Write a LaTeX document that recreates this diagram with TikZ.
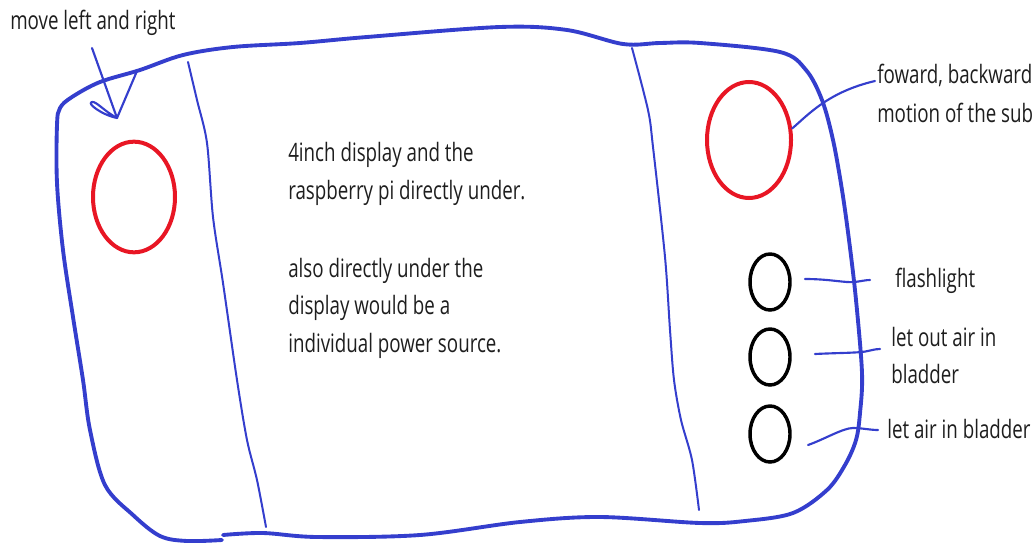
\documentclass[tikz,border=0pt]{standalone}
\usepackage{fontspec}
\setmainfont{Open Sans}[FakeStretch=0.74]
\usetikzlibrary{shapes.geometric}
\definecolor{inkblue}{RGB}{52,62,205}
\definecolor{inkred}{RGB}{232,22,36}
\definecolor{inktext}{RGB}{30,30,30}
\begin{document}
\begin{tikzpicture}[x=0.75pt,y=-0.75pt,
  outline/.style={draw=inkblue, line width=2.9pt, line cap=round, line join=round},
  thin/.style={draw=inkblue, line width=1.5pt, line cap=round, line join=round},
  conn/.style={draw=inkblue, line width=1.6pt, line cap=round, line join=round},
  redknob/.style={ellipse, draw=inkred, line width=3pt, inner sep=0pt},
  btn/.style={ellipse, draw=black, line width=2.6pt, inner sep=0pt, minimum width=30pt, minimum height=42pt},
  lbl/.style={anchor=base west, inner sep=0pt, text=inktext, font=\fontsize{19}{28}\selectfont}]
\useasboundingbox (0,0) rectangle (1034,542);
% outer outline
\draw[outline] plot[smooth, tension=0.55] coordinates {
 (223,535) (263,533) (317,537) (420,535) (520,522) (600,517) (700,523) (745,521)
 (793,513) (827,490) (845,465) (856,440) (860,413) (862,373) (856,300) (849,240)
 (842,190) (833,140) (822,100) (806,70) (780,52) (700,43) (660,43) (623,44)
 (567,30) (500,27) (367,37) (300,43) (233,47) (183,55) (140,70) (100,82)
 (72,97) (60,108) (57,125) (57,183) (63,250) (73,317) (83,380) (90,430)
 (105,485) (133,515) (160,536) (187,541) (222,540)};
% dividers
\draw[thin] plot[smooth, tension=0.5] coordinates {
 (188,62) (197,100) (207,143) (213,217) (223,283) (237,380) (247,440) (257,480) (266,527)};
\draw[thin] plot[smooth, tension=0.5] coordinates {
 (632,48) (648,110) (653,147) (665,257) (670,330) (674,380) (681,420) (692,460) (699,510)};
% arrow with hook
\draw[conn] (92,48) -- (117,118) -- (137,71);
\draw[conn] (117,118) .. controls (102,115) and (86,103) .. (92,102) .. controls (96,101) and (104,111) .. (117,118);
% knobs and buttons
\node[redknob, minimum width=61.5pt, minimum height=83pt] (r1) at (134,197) {};
\node[redknob, minimum width=63pt, minimum height=87pt] (r2) at (749,140) {};
\node[btn] (b1) at (770,282) {};
\node[btn] (b2) at (770,357) {};
\node[btn] (b3) at (770,434) {};
% labels
\node[lbl] (mlr) at (10,30) {move left and right};
\node[lbl] (fb1) at (877,84) {foward, backward};
\node[lbl] (fb2) at (877,122) {motion of the sub};
\node[lbl] (t1) at (288,161) {4inch display and the};
\node[lbl] (t2) at (288,199) {raspberry pi directly under.};
\node[lbl] (t3) at (288,277) {also directly under the};
\node[lbl] (t4) at (288,314) {display would be a};
\node[lbl] (t5) at (288,352) {individual power source.};
\node[lbl] (fl) at (895,287) {flashlight};
\node[lbl] (lo1) at (891,346) {let out air in};
\node[lbl] (lo2) at (891,383) {bladder};
\node[lbl] (li) at (887,438) {let air in bladder};
% connectors
\coordinate (c0) at (875,81);
\coordinate (s1) at (805,279);
\coordinate (e1) at (870,280);
\coordinate (s2) at (815,354);
\coordinate (e2) at (880,349);
\coordinate (s3) at (808,445);
\coordinate (e3) at (878,430);
\draw[conn] (r2.15) .. controls (808,115) and (828,92) .. (c0);
\draw[conn] (s1) .. controls (830,279) and (845,283) .. (855,282) .. controls (862,281) and (866,280) .. (e1);
\draw[conn] (s2) .. controls (835,353) and (850,353) .. (862,352) .. controls (870,351) and (874,349) .. (e2);
\draw[conn] (s3) .. controls (825,439) and (843,428) .. (853,428) .. controls (862,428) and (870,430) .. (e3);
\end{tikzpicture}
\end{document}
